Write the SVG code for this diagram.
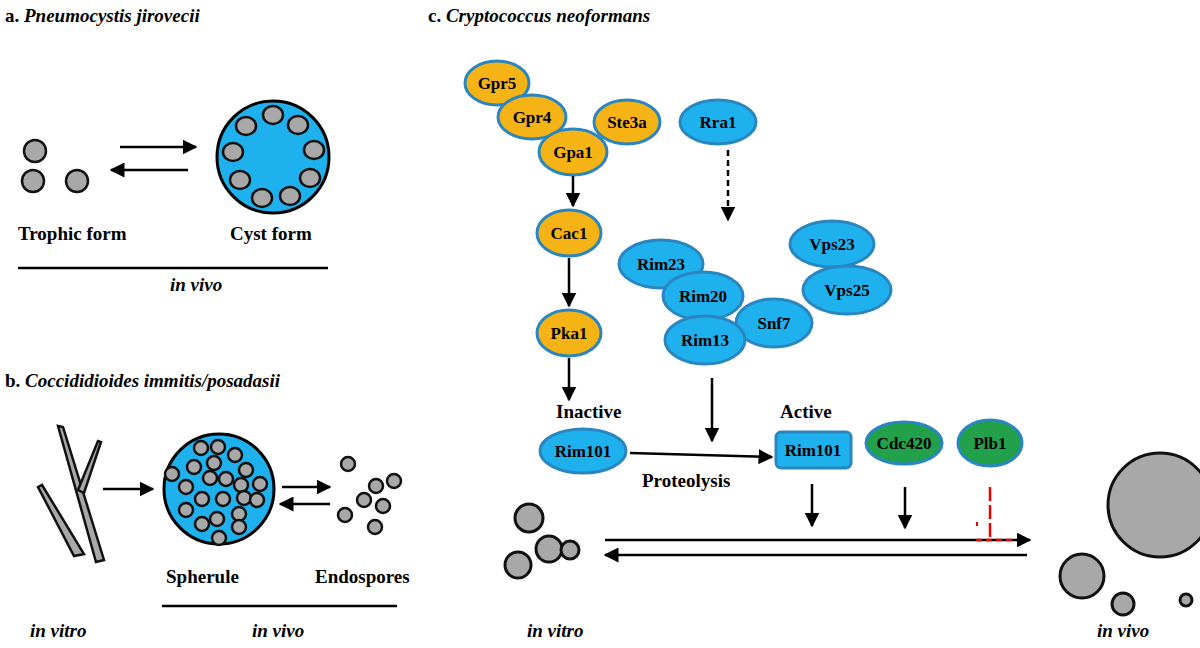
<svg xmlns="http://www.w3.org/2000/svg" width="1200" height="648" viewBox="0 0 1200 648">
<defs>
<marker id="ah" viewBox="0 0 10 10" refX="9" refY="5" markerWidth="6" markerHeight="6" orient="auto-start-reverse"><path d="M0,0L10,5L0,10z" fill="#000"/></marker>
<style>
text{font-family:"Liberation Serif",serif;font-weight:bold;font-size:19px;fill:#000}
.it{font-style:italic}
.t{font-size:19px}
.lbl{text-anchor:middle;font-size:17px}
.or{fill:#f5b315;stroke:#2a86c0;stroke-width:3}
.bl{fill:#1fb0ee;stroke:#2a86c0;stroke-width:3}
.gr{fill:#22a04a;stroke:#2a86c0;stroke-width:3}
.cell{fill:#a8a8a8;stroke:#111;stroke-width:2.5}
.big{fill:#a8a8a8;stroke:#111;stroke-width:3}
.ar{stroke:#000;stroke-width:2.5;fill:none;marker-end:url(#ah)}
.ln{stroke:#000;stroke-width:2.5}
</style>
</defs>
<rect width="1200" height="648" fill="#fff"/>
<!-- Panel a -->
<g id="panel-a">
<text x="5" y="22" class="t">a. <tspan class="it">Pneumocystis jirovecii</tspan></text>
<circle class="cell" cx="35" cy="151" r="11"/><circle class="cell" cx="33" cy="181" r="11"/><circle class="cell" cx="77" cy="181" r="11"/>
<line class="ar" x1="120" y1="147" x2="196" y2="147"/>
<line class="ar" x1="188" y1="170" x2="111" y2="170"/>
<circle cx="273" cy="157" r="56" fill="#1fb0ee" stroke="#000" stroke-width="3"/>
<g class="cell">
<ellipse cx="273" cy="115" rx="10" ry="9"/><ellipse cx="298" cy="125" rx="10" ry="9"/><ellipse cx="314" cy="150" rx="10" ry="9"/><ellipse cx="310" cy="178" rx="10" ry="9"/><ellipse cx="290" cy="196" rx="10" ry="9"/><ellipse cx="262" cy="198" rx="10" ry="9"/><ellipse cx="240" cy="180" rx="10" ry="9"/><ellipse cx="233" cy="152" rx="10" ry="9"/><ellipse cx="246" cy="126" rx="10" ry="9"/>
</g>
<text x="18" y="240">Trophic form</text><text x="230" y="240">Cyst form</text>
<line class="ln" x1="18" y1="268" x2="328" y2="268"/>
<text x="170" y="291" class="it">in vivo</text>
</g>
<!-- Panel b -->
<g id="panel-b">
<text x="5" y="387" class="t">b. <tspan class="it">Coccididioides immitis/posadasii</tspan></text>
<g fill="#a8a8a8" stroke="#111" stroke-width="2.5">
<polygon points="58,426 63,427 104,560 96,562"/>
<polygon points="78,490 98,441 101,442 84,493"/>
<polygon points="38,487 42,485 84,554 74,556"/>
</g>
<circle cx="219" cy="489" r="55" fill="#1fb0ee" stroke="#000" stroke-width="3"/>
<g class="cell">
<circle cx="201" cy="448" r="7"/><circle cx="218" cy="447" r="7"/><circle cx="235" cy="455" r="7"/><circle cx="194" cy="467" r="7"/><circle cx="214" cy="463" r="7"/><circle cx="246" cy="470" r="7"/><circle cx="172" cy="474" r="7"/><circle cx="210" cy="478" r="7"/><circle cx="226" cy="479" r="7"/><circle cx="186" cy="487" r="7"/><circle cx="241" cy="485" r="7"/><circle cx="260" cy="484" r="7"/><circle cx="202" cy="499" r="7"/><circle cx="223" cy="499" r="7"/><circle cx="244" cy="498" r="7"/><circle cx="257" cy="500" r="7"/><circle cx="186" cy="510" r="7"/><circle cx="239" cy="514" r="7"/><circle cx="217" cy="519" r="7"/><circle cx="202" cy="524" r="7"/><circle cx="239" cy="527" r="7"/><circle cx="219" cy="538" r="7"/>
<circle cx="348" cy="464" r="7"/><circle cx="394" cy="481" r="7"/><circle cx="376" cy="486" r="7"/><circle cx="364" cy="500" r="7"/><circle cx="383" cy="506" r="7"/><circle cx="345" cy="515" r="7"/><circle cx="375" cy="527" r="7"/>
</g>
<line class="ar" x1="103" y1="489" x2="153" y2="489"/>
<line class="ar" x1="282" y1="487" x2="330" y2="487"/>
<line class="ar" x1="330" y1="504" x2="280" y2="504"/>
<text x="166" y="583">Spherule</text><text x="315" y="583">Endospores</text>
<line class="ln" x1="162" y1="606" x2="397" y2="606"/>
<text x="30" y="637" class="it">in vitro</text><text x="252" y="637" class="it">in vivo</text>
</g>
<!-- Panel c -->
<g id="panel-c-title"><text x="428" y="22" class="t">c. <tspan class="it">Cryptococcus neoformans</tspan></text></g>
<g id="gpr5"><ellipse class="or" cx="497" cy="83" rx="32" ry="22"/><text class="lbl" x="497" y="89">Gpr5</text></g>
<g id="gpr4"><ellipse class="or" cx="532" cy="117" rx="34" ry="22"/><text class="lbl" x="532" y="123">Gpr4</text></g>
<g id="ste3a"><ellipse class="or" cx="627" cy="122" rx="33" ry="22"/><text class="lbl" x="627" y="128">Ste3a</text></g>
<g id="gpa1"><ellipse class="or" cx="573" cy="152" rx="34" ry="23"/><text class="lbl" x="573" y="158">Gpa1</text></g>
<g id="cac1"><ellipse class="or" cx="569" cy="233" rx="32" ry="23"/><text class="lbl" x="569" y="239">Cac1</text></g>
<g id="pka1"><ellipse class="or" cx="569" cy="333" rx="32" ry="23"/><text class="lbl" x="569" y="339">Pka1</text></g>
<g id="rra1"><ellipse class="bl" cx="718" cy="122" rx="38" ry="22"/><text class="lbl" x="718" y="128">Rra1</text></g>
<g id="vps23"><ellipse class="bl" cx="832" cy="244" rx="42" ry="23"/><text class="lbl" x="832" y="250">Vps23</text></g>
<g id="rim23"><ellipse class="bl" cx="661" cy="264" rx="42" ry="24"/><text class="lbl" x="661" y="270">Rim23</text></g>
<g id="vps25"><ellipse class="bl" cx="847" cy="290" rx="44" ry="24"/><text class="lbl" x="847" y="296">Vps25</text></g>
<g id="rim20"><ellipse class="bl" cx="703" cy="296" rx="40" ry="24"/><text class="lbl" x="703" y="302">Rim20</text></g>
<g id="snf7"><ellipse class="bl" cx="774" cy="323" rx="38" ry="24"/><text class="lbl" x="774" y="329">Snf7</text></g>
<g id="rim13"><ellipse class="bl" cx="705" cy="340" rx="40" ry="24"/><text class="lbl" x="705" y="346">Rim13</text></g>
<g id="rim101-inactive"><text x="556" y="418">Inactive</text><ellipse class="bl" cx="583" cy="451" rx="43" ry="22"/><text class="lbl" x="583" y="457">Rim101</text></g>
<g id="rim101-active"><text x="780" y="418">Active</text><rect class="bl" x="776" y="432" width="75" height="36" rx="5"/><text class="lbl" x="813" y="456">Rim101</text></g>
<g id="cdc420"><ellipse class="gr" cx="904" cy="443" rx="38" ry="21"/><text class="lbl" x="904" y="449">Cdc420</text></g>
<g id="plb1"><ellipse class="gr" cx="990" cy="443" rx="32" ry="23"/><text class="lbl" x="990" y="449">Plb1</text></g>
<g id="connectors">
<line class="ar" x1="573" y1="176" x2="573" y2="206"/>
<line class="ar" x1="569" y1="258" x2="569" y2="306"/>
<line class="ar" x1="569" y1="358" x2="569" y2="400"/>
<line class="ar" x1="728" y1="150" x2="728" y2="220" stroke-dasharray="6,4"/>
<line class="ar" x1="712" y1="378" x2="712" y2="441"/>
<line class="ar" x1="630" y1="453" x2="772" y2="457"/>
<line class="ar" x1="812" y1="484" x2="812" y2="526"/>
<line class="ar" x1="905" y1="487" x2="905" y2="528"/>
<line class="ar" x1="605" y1="540" x2="1030" y2="540"/>
<line class="ar" x1="1027" y1="555" x2="605" y2="555"/>
<line x1="990" y1="487" x2="990" y2="538" stroke="#e00" stroke-width="2.5" stroke-dasharray="14,4"/>
<line x1="976" y1="540" x2="1012" y2="540" stroke="#e00" stroke-width="2.5" stroke-dasharray="6,4"/>
<line x1="977" y1="522" x2="977" y2="526" stroke="#e00" stroke-width="2"/>
</g>
<text x="642" y="487">Proteolysis</text>
<g id="cells-c">
<circle class="big" cx="529" cy="518" r="14"/><circle class="big" cx="549" cy="549" r="13"/><circle class="big" cx="570" cy="550" r="9"/><circle class="big" cx="518" cy="565" r="13"/>
<circle class="big" cx="1160" cy="505" r="52"/><circle class="big" cx="1082" cy="576" r="22"/><circle class="big" cx="1123" cy="604" r="11"/><circle class="big" cx="1186" cy="600" r="6"/>
</g>
<text x="527" y="637" class="it">in vitro</text><text x="1097" y="637" class="it">in vivo</text>
</svg>
